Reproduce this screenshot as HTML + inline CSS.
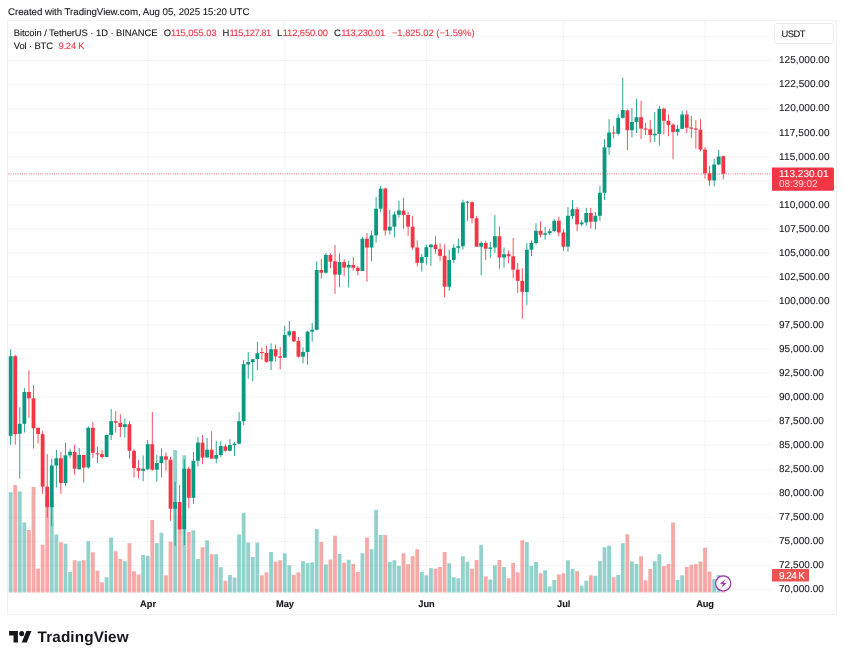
<!DOCTYPE html>
<html lang="en"><head><meta charset="utf-8"><title>BTCUSDT chart</title>
<style>
html,body{margin:0;padding:0;background:#fff}
svg{display:block}
text{font-family:"Liberation Sans",sans-serif;text-rendering:geometricPrecision;fill:#16171b;stroke:#16171b;stroke-width:.1px}
.a{font-size:10px}
.h{font-size:9.7px}
.l{font-size:9.4px}
.r{fill:#F23645;stroke:#F23645}
.b{font-weight:700;font-size:9.3px}
</style></head><body>
<svg width="844" height="660" viewBox="0 0 844 660">
<rect width="844" height="660" fill="#fff"/>
<g fill="rgba(0,0,0,0.045)">
<rect x="8" y="35.95" width="763.2" height="1"/>
<rect x="8" y="60" width="763.2" height="1"/>
<rect x="8" y="84.05" width="763.2" height="1"/>
<rect x="8" y="108.09" width="763.2" height="1"/>
<rect x="8" y="132.13" width="763.2" height="1"/>
<rect x="8" y="156.18" width="763.2" height="1"/>
<rect x="8" y="180.23" width="763.2" height="1"/>
<rect x="8" y="204.27" width="763.2" height="1"/>
<rect x="8" y="228.31" width="763.2" height="1"/>
<rect x="8" y="252.36" width="763.2" height="1"/>
<rect x="8" y="276.41" width="763.2" height="1"/>
<rect x="8" y="300.45" width="763.2" height="1"/>
<rect x="8" y="324.5" width="763.2" height="1"/>
<rect x="8" y="348.54" width="763.2" height="1"/>
<rect x="8" y="372.59" width="763.2" height="1"/>
<rect x="8" y="396.63" width="763.2" height="1"/>
<rect x="8" y="420.68" width="763.2" height="1"/>
<rect x="8" y="444.72" width="763.2" height="1"/>
<rect x="8" y="468.77" width="763.2" height="1"/>
<rect x="8" y="492.81" width="763.2" height="1"/>
<rect x="8" y="516.86" width="763.2" height="1"/>
<rect x="8" y="540.9" width="763.2" height="1"/>
<rect x="8" y="564.95" width="763.2" height="1"/>
<rect x="8" y="588.99" width="763.2" height="1"/>
<rect x="147.2" y="21" width="1" height="571.5"/>
<rect x="284.25" y="21" width="1" height="571.5"/>
<rect x="425.86" y="21" width="1" height="571.5"/>
<rect x="562.9" y="21" width="1" height="571.5"/>
<rect x="704.51" y="21" width="1" height="571.5"/>
</g>
<rect x="7.5" y="20.5" width="829" height="594" fill="none" stroke="#f1f1f3" stroke-width="1"/>
<g fill="rgba(38,166,154,.5)">
<rect x="8.76" y="492.3" width="3.81" height="100.2"/>
<rect x="17.89" y="491.5" width="3.81" height="101"/>
<rect x="22.46" y="522.5" width="3.81" height="70"/>
<rect x="49.87" y="500" width="3.81" height="92.5"/>
<rect x="54.44" y="534.5" width="3.81" height="58"/>
<rect x="63.57" y="543.7" width="3.81" height="48.8"/>
<rect x="68.14" y="572" width="3.81" height="20.5"/>
<rect x="77.28" y="561.2" width="3.81" height="31.3"/>
<rect x="86.41" y="541.2" width="3.81" height="51.3"/>
<rect x="104.69" y="577.3" width="3.81" height="15.2"/>
<rect x="109.25" y="537.5" width="3.81" height="55"/>
<rect x="122.96" y="561.2" width="3.81" height="31.3"/>
<rect x="141.23" y="555" width="3.81" height="37.5"/>
<rect x="145.8" y="555.8" width="3.81" height="36.7"/>
<rect x="154.93" y="543.2" width="3.81" height="49.3"/>
<rect x="159.5" y="532.8" width="3.81" height="59.7"/>
<rect x="173.21" y="450" width="3.81" height="142.5"/>
<rect x="182.34" y="455.3" width="3.81" height="137.2"/>
<rect x="191.48" y="530.3" width="3.81" height="62.2"/>
<rect x="196.05" y="559" width="3.81" height="33.5"/>
<rect x="205.18" y="540.3" width="3.81" height="52.2"/>
<rect x="214.32" y="554.2" width="3.81" height="38.3"/>
<rect x="218.89" y="567.3" width="3.81" height="25.2"/>
<rect x="228.02" y="575" width="3.81" height="17.5"/>
<rect x="232.59" y="577.5" width="3.81" height="15"/>
<rect x="237.16" y="534.5" width="3.81" height="58"/>
<rect x="241.73" y="512.8" width="3.81" height="79.7"/>
<rect x="246.3" y="542.5" width="3.81" height="50"/>
<rect x="250.86" y="557" width="3.81" height="35.5"/>
<rect x="255.43" y="542.5" width="3.81" height="50"/>
<rect x="269.14" y="552" width="3.81" height="40.5"/>
<rect x="282.84" y="553.3" width="3.81" height="39.2"/>
<rect x="287.41" y="565.3" width="3.81" height="27.2"/>
<rect x="301.11" y="561.2" width="3.81" height="31.3"/>
<rect x="305.68" y="563.2" width="3.81" height="29.3"/>
<rect x="310.25" y="562.3" width="3.81" height="30.2"/>
<rect x="314.82" y="529" width="3.81" height="63.5"/>
<rect x="323.95" y="564.5" width="3.81" height="28"/>
<rect x="337.66" y="554" width="3.81" height="38.5"/>
<rect x="346.79" y="559.8" width="3.81" height="32.7"/>
<rect x="360.5" y="553.2" width="3.81" height="39.3"/>
<rect x="369.63" y="549.2" width="3.81" height="43.3"/>
<rect x="374.2" y="509.8" width="3.81" height="82.7"/>
<rect x="378.77" y="535" width="3.81" height="57.5"/>
<rect x="387.91" y="562" width="3.81" height="30.5"/>
<rect x="392.48" y="560.3" width="3.81" height="32.2"/>
<rect x="397.04" y="565.8" width="3.81" height="26.7"/>
<rect x="419.88" y="572" width="3.81" height="20.5"/>
<rect x="424.45" y="575.3" width="3.81" height="17.2"/>
<rect x="429.02" y="568.2" width="3.81" height="24.3"/>
<rect x="447.29" y="563.3" width="3.81" height="29.2"/>
<rect x="451.86" y="577.3" width="3.81" height="15.2"/>
<rect x="456.43" y="578.2" width="3.81" height="14.3"/>
<rect x="461" y="556.2" width="3.81" height="36.3"/>
<rect x="465.57" y="561.7" width="3.81" height="30.8"/>
<rect x="479.27" y="544.8" width="3.81" height="47.7"/>
<rect x="488.41" y="579.5" width="3.81" height="13"/>
<rect x="492.97" y="565.3" width="3.81" height="27.2"/>
<rect x="502.11" y="567" width="3.81" height="25.5"/>
<rect x="524.95" y="542" width="3.81" height="50.5"/>
<rect x="529.52" y="565.8" width="3.81" height="26.7"/>
<rect x="534.09" y="562" width="3.81" height="30.5"/>
<rect x="543.22" y="570.3" width="3.81" height="22.2"/>
<rect x="547.79" y="586.5" width="3.81" height="6"/>
<rect x="552.36" y="580" width="3.81" height="12.5"/>
<rect x="566.06" y="560.3" width="3.81" height="32.2"/>
<rect x="570.63" y="569" width="3.81" height="23.5"/>
<rect x="579.77" y="585.7" width="3.81" height="6.8"/>
<rect x="584.34" y="580.7" width="3.81" height="11.8"/>
<rect x="593.47" y="575.8" width="3.81" height="16.7"/>
<rect x="598.04" y="561.2" width="3.81" height="31.3"/>
<rect x="602.61" y="547.3" width="3.81" height="45.2"/>
<rect x="607.18" y="545.7" width="3.81" height="46.8"/>
<rect x="616.31" y="575" width="3.81" height="17.5"/>
<rect x="620.88" y="543.2" width="3.81" height="49.3"/>
<rect x="630.02" y="561.5" width="3.81" height="31"/>
<rect x="634.58" y="564" width="3.81" height="28.5"/>
<rect x="652.86" y="561.2" width="3.81" height="31.3"/>
<rect x="657.43" y="554.2" width="3.81" height="38.3"/>
<rect x="675.7" y="580" width="3.81" height="12.5"/>
<rect x="680.27" y="575.3" width="3.81" height="17.2"/>
<rect x="712.24" y="579" width="3.81" height="13.5"/>
<rect x="716.81" y="575" width="3.81" height="17.5"/>
</g>
<g fill="rgba(239,83,80,.5)">
<rect x="13.32" y="485" width="3.81" height="107.5"/>
<rect x="27.03" y="530" width="3.81" height="62.5"/>
<rect x="31.6" y="487" width="3.81" height="105.5"/>
<rect x="36.16" y="568.7" width="3.81" height="23.8"/>
<rect x="40.73" y="544.8" width="3.81" height="47.7"/>
<rect x="45.3" y="497" width="3.81" height="95.5"/>
<rect x="59" y="542.3" width="3.81" height="50.2"/>
<rect x="72.71" y="560.3" width="3.81" height="32.2"/>
<rect x="81.84" y="560.3" width="3.81" height="32.2"/>
<rect x="90.98" y="552.3" width="3.81" height="40.2"/>
<rect x="95.55" y="570.7" width="3.81" height="21.8"/>
<rect x="100.12" y="582.3" width="3.81" height="10.2"/>
<rect x="113.82" y="551.2" width="3.81" height="41.3"/>
<rect x="118.39" y="559" width="3.81" height="33.5"/>
<rect x="127.53" y="543.2" width="3.81" height="49.3"/>
<rect x="132.09" y="571.2" width="3.81" height="21.3"/>
<rect x="136.66" y="574.5" width="3.81" height="18"/>
<rect x="150.37" y="520" width="3.81" height="72.5"/>
<rect x="164.07" y="575.3" width="3.81" height="17.2"/>
<rect x="168.64" y="541.7" width="3.81" height="50.8"/>
<rect x="177.77" y="515" width="3.81" height="77.5"/>
<rect x="186.91" y="532" width="3.81" height="60.5"/>
<rect x="200.62" y="547.3" width="3.81" height="45.2"/>
<rect x="209.75" y="554.2" width="3.81" height="38.3"/>
<rect x="223.46" y="580.7" width="3.81" height="11.8"/>
<rect x="260" y="575.3" width="3.81" height="17.2"/>
<rect x="264.57" y="572.3" width="3.81" height="20.2"/>
<rect x="273.7" y="561.7" width="3.81" height="30.8"/>
<rect x="278.27" y="560.3" width="3.81" height="32.2"/>
<rect x="291.98" y="575" width="3.81" height="17.5"/>
<rect x="296.55" y="572.3" width="3.81" height="20.2"/>
<rect x="319.39" y="542" width="3.81" height="50.5"/>
<rect x="328.52" y="559.5" width="3.81" height="33"/>
<rect x="333.09" y="535.7" width="3.81" height="56.8"/>
<rect x="342.23" y="562.8" width="3.81" height="29.7"/>
<rect x="351.36" y="564" width="3.81" height="28.5"/>
<rect x="355.93" y="572" width="3.81" height="20.5"/>
<rect x="365.07" y="537.5" width="3.81" height="55"/>
<rect x="383.34" y="535" width="3.81" height="57.5"/>
<rect x="401.61" y="553.3" width="3.81" height="39.2"/>
<rect x="406.18" y="564.2" width="3.81" height="28.3"/>
<rect x="410.75" y="556.2" width="3.81" height="36.3"/>
<rect x="415.32" y="549.2" width="3.81" height="43.3"/>
<rect x="433.59" y="568.7" width="3.81" height="23.8"/>
<rect x="438.16" y="567" width="3.81" height="25.5"/>
<rect x="442.72" y="552" width="3.81" height="40.5"/>
<rect x="470.13" y="568.7" width="3.81" height="23.8"/>
<rect x="474.7" y="560" width="3.81" height="32.5"/>
<rect x="483.84" y="576.5" width="3.81" height="16"/>
<rect x="497.54" y="560" width="3.81" height="32.5"/>
<rect x="506.68" y="578.3" width="3.81" height="14.2"/>
<rect x="511.25" y="562.8" width="3.81" height="29.7"/>
<rect x="515.81" y="572.3" width="3.81" height="20.2"/>
<rect x="520.38" y="540.3" width="3.81" height="52.2"/>
<rect x="538.65" y="573.3" width="3.81" height="19.2"/>
<rect x="556.93" y="574.5" width="3.81" height="18"/>
<rect x="561.5" y="573.3" width="3.81" height="19.2"/>
<rect x="575.2" y="571.2" width="3.81" height="21.3"/>
<rect x="588.9" y="575.3" width="3.81" height="17.2"/>
<rect x="611.74" y="577.3" width="3.81" height="15.2"/>
<rect x="625.45" y="534.2" width="3.81" height="58.3"/>
<rect x="639.15" y="556.2" width="3.81" height="36.3"/>
<rect x="643.72" y="580.3" width="3.81" height="12.2"/>
<rect x="648.29" y="569" width="3.81" height="23.5"/>
<rect x="661.99" y="566.2" width="3.81" height="26.3"/>
<rect x="666.56" y="564" width="3.81" height="28.5"/>
<rect x="671.13" y="522.5" width="3.81" height="70"/>
<rect x="684.83" y="567" width="3.81" height="25.5"/>
<rect x="689.4" y="565" width="3.81" height="27.5"/>
<rect x="693.97" y="564.2" width="3.81" height="28.3"/>
<rect x="698.54" y="561.5" width="3.81" height="31"/>
<rect x="703.11" y="547.8" width="3.81" height="44.7"/>
<rect x="707.67" y="571.5" width="3.81" height="21"/>
<rect x="721.38" y="582" width="3.81" height="10.5"/>
</g>
<g fill="#089981">
<rect x="10.23" y="349.2" width="0.85" height="95.5"/><rect x="8.76" y="356.2" width="3.81" height="79.6"/>
<rect x="19.37" y="407.2" width="0.85" height="71.6"/><rect x="17.89" y="423.8" width="3.81" height="10"/>
<rect x="23.94" y="388" width="0.85" height="44.5"/><rect x="22.46" y="392" width="3.81" height="31.8"/>
<rect x="51.35" y="458.7" width="0.85" height="67.6"/><rect x="49.87" y="465.5" width="3.81" height="41.5"/>
<rect x="55.92" y="450" width="0.85" height="37.5"/><rect x="54.44" y="458.3" width="3.81" height="7.2"/>
<rect x="65.05" y="442.5" width="0.85" height="43.3"/><rect x="63.57" y="455.3" width="3.81" height="27.7"/>
<rect x="69.62" y="448.7" width="0.85" height="9.6"/><rect x="68.14" y="451.7" width="3.81" height="3.6"/>
<rect x="78.76" y="448" width="0.85" height="21.7"/><rect x="77.28" y="455" width="3.81" height="14.2"/>
<rect x="87.89" y="426.2" width="0.85" height="42.5"/><rect x="86.41" y="427.8" width="3.81" height="39.7"/>
<rect x="106.17" y="434.7" width="0.85" height="22.3"/><rect x="104.69" y="435" width="3.81" height="22"/>
<rect x="110.73" y="408.8" width="0.85" height="31.2"/><rect x="109.25" y="421.2" width="3.81" height="13.8"/>
<rect x="124.44" y="418.8" width="0.85" height="18.7"/><rect x="122.96" y="424.2" width="3.81" height="2.8"/>
<rect x="142.71" y="455.5" width="0.85" height="25.8"/><rect x="141.23" y="468.8" width="3.81" height="2"/>
<rect x="147.28" y="440" width="0.85" height="30"/><rect x="145.8" y="444.2" width="3.81" height="25"/>
<rect x="156.41" y="455" width="0.85" height="26.7"/><rect x="154.93" y="463" width="3.81" height="6.7"/>
<rect x="160.98" y="448.3" width="0.85" height="29.2"/><rect x="159.5" y="456.3" width="3.81" height="6.7"/>
<rect x="174.69" y="481.7" width="0.85" height="64.1"/><rect x="173.21" y="502" width="3.81" height="6.7"/>
<rect x="183.82" y="459.2" width="0.85" height="85.8"/><rect x="182.34" y="468.7" width="3.81" height="60.5"/>
<rect x="192.96" y="452" width="0.85" height="51.7"/><rect x="191.48" y="460.8" width="3.81" height="37"/>
<rect x="197.53" y="437" width="0.85" height="29.7"/><rect x="196.05" y="442.6" width="3.81" height="18.2"/>
<rect x="206.66" y="438" width="0.85" height="19.5"/><rect x="205.18" y="449.7" width="3.81" height="7.8"/>
<rect x="215.8" y="440.8" width="0.85" height="22.5"/><rect x="214.32" y="455" width="3.81" height="3.7"/>
<rect x="220.37" y="441.2" width="0.85" height="16"/><rect x="218.89" y="446" width="3.81" height="9"/>
<rect x="229.5" y="439.2" width="0.85" height="12.1"/><rect x="228.02" y="445" width="3.81" height="5.8"/>
<rect x="234.07" y="442" width="0.85" height="13.8"/><rect x="232.59" y="443.7" width="3.81" height="1.5"/>
<rect x="238.64" y="412.2" width="0.85" height="31.5"/><rect x="237.16" y="421.2" width="3.81" height="22.5"/>
<rect x="243.21" y="360" width="0.85" height="65.3"/><rect x="241.73" y="364.2" width="3.81" height="57"/>
<rect x="247.78" y="352" width="0.85" height="26.7"/><rect x="246.3" y="362" width="3.81" height="2.5"/>
<rect x="252.34" y="359.2" width="0.85" height="22"/><rect x="250.86" y="359.2" width="3.81" height="2.8"/>
<rect x="256.91" y="342" width="0.85" height="28"/><rect x="255.43" y="353.2" width="3.81" height="5.8"/>
<rect x="270.62" y="343.3" width="0.85" height="26.7"/><rect x="269.14" y="349.2" width="3.81" height="12.1"/>
<rect x="284.32" y="325.8" width="0.85" height="31.9"/><rect x="282.84" y="335" width="3.81" height="22.7"/>
<rect x="288.89" y="320.8" width="0.85" height="15.9"/><rect x="287.41" y="331.3" width="3.81" height="4"/>
<rect x="302.59" y="347.5" width="0.85" height="15.8"/><rect x="301.11" y="352" width="3.81" height="4.7"/>
<rect x="307.16" y="330.8" width="0.85" height="33.9"/><rect x="305.68" y="331.7" width="3.81" height="20.3"/>
<rect x="311.73" y="323" width="0.85" height="18.7"/><rect x="310.25" y="329.7" width="3.81" height="2"/>
<rect x="316.3" y="261.3" width="0.85" height="69.2"/><rect x="314.82" y="270" width="3.81" height="59.7"/>
<rect x="325.43" y="253" width="0.85" height="20.7"/><rect x="323.95" y="255" width="3.81" height="17.7"/>
<rect x="339.14" y="253.3" width="0.85" height="34"/><rect x="337.66" y="262" width="3.81" height="12.7"/>
<rect x="348.27" y="260.8" width="0.85" height="26.7"/><rect x="346.79" y="265" width="3.81" height="2.5"/>
<rect x="361.98" y="237" width="0.85" height="34"/><rect x="360.5" y="238.7" width="3.81" height="32.3"/>
<rect x="371.11" y="230.8" width="0.85" height="30.4"/><rect x="369.63" y="235.3" width="3.81" height="12.2"/>
<rect x="375.68" y="197" width="0.85" height="45.5"/><rect x="374.2" y="208.7" width="3.81" height="26.6"/>
<rect x="380.25" y="185.8" width="0.85" height="26.7"/><rect x="378.77" y="188.7" width="3.81" height="20"/>
<rect x="389.39" y="210" width="0.85" height="24.7"/><rect x="387.91" y="226.7" width="3.81" height="3.8"/>
<rect x="393.96" y="211.3" width="0.85" height="26.2"/><rect x="392.48" y="214.5" width="3.81" height="12.2"/>
<rect x="398.52" y="200.8" width="0.85" height="16.7"/><rect x="397.04" y="210.5" width="3.81" height="4.2"/>
<rect x="421.36" y="253.8" width="0.85" height="17.9"/><rect x="419.88" y="257" width="3.81" height="5.8"/>
<rect x="425.93" y="244.7" width="0.85" height="20"/><rect x="424.45" y="247.2" width="3.81" height="9.8"/>
<rect x="430.5" y="243.8" width="0.85" height="22"/><rect x="429.02" y="244.7" width="3.81" height="2.5"/>
<rect x="448.77" y="249.7" width="0.85" height="41.1"/><rect x="447.29" y="260" width="3.81" height="26.7"/>
<rect x="453.34" y="244.2" width="0.85" height="19.1"/><rect x="451.86" y="247.8" width="3.81" height="12.2"/>
<rect x="457.91" y="238.3" width="0.85" height="15"/><rect x="456.43" y="246.2" width="3.81" height="1.6"/>
<rect x="462.48" y="199.7" width="0.85" height="50"/><rect x="461" y="202.5" width="3.81" height="43.7"/>
<rect x="467.05" y="200.8" width="0.85" height="20"/><rect x="465.57" y="201.7" width="3.81" height="1"/>
<rect x="480.75" y="241.3" width="0.85" height="34"/><rect x="479.27" y="243" width="3.81" height="3.7"/>
<rect x="489.89" y="242" width="0.85" height="16"/><rect x="488.41" y="247.5" width="3.81" height="1.3"/>
<rect x="494.45" y="215" width="0.85" height="38"/><rect x="492.97" y="236.2" width="3.81" height="11.3"/>
<rect x="503.59" y="247.5" width="0.85" height="20"/><rect x="502.11" y="254.2" width="3.81" height="3.3"/>
<rect x="526.43" y="243" width="0.85" height="62"/><rect x="524.95" y="249.7" width="3.81" height="42.3"/>
<rect x="531" y="240.3" width="0.85" height="16"/><rect x="529.52" y="243" width="3.81" height="6.7"/>
<rect x="535.57" y="223.2" width="0.85" height="21.5"/><rect x="534.09" y="230.8" width="3.81" height="12.2"/>
<rect x="544.7" y="227" width="0.85" height="12.7"/><rect x="543.22" y="233.3" width="3.81" height="1.4"/>
<rect x="549.27" y="228.5" width="0.85" height="6.8"/><rect x="547.79" y="231.2" width="3.81" height="2.1"/>
<rect x="553.84" y="219.2" width="0.85" height="12.5"/><rect x="552.36" y="220.8" width="3.81" height="10.4"/>
<rect x="567.54" y="207.2" width="0.85" height="44.5"/><rect x="566.06" y="215.8" width="3.81" height="30.9"/>
<rect x="572.11" y="200" width="0.85" height="19"/><rect x="570.63" y="209.2" width="3.81" height="6.9"/>
<rect x="581.25" y="220" width="0.85" height="6.3"/><rect x="579.77" y="222.5" width="3.81" height="1.8"/>
<rect x="585.82" y="207.8" width="0.85" height="18"/><rect x="584.34" y="213" width="3.81" height="9.5"/>
<rect x="594.95" y="212.2" width="0.85" height="17.3"/><rect x="593.47" y="215.8" width="3.81" height="5.9"/>
<rect x="599.52" y="185.8" width="0.85" height="35.2"/><rect x="598.04" y="192.8" width="3.81" height="23"/>
<rect x="604.09" y="139.2" width="0.85" height="60.8"/><rect x="602.61" y="147.4" width="3.81" height="45.4"/>
<rect x="608.66" y="119.2" width="0.85" height="35.5"/><rect x="607.18" y="132.5" width="3.81" height="14.9"/>
<rect x="617.79" y="114.2" width="0.85" height="21.1"/><rect x="616.31" y="117.8" width="3.81" height="15.9"/>
<rect x="622.36" y="77.5" width="0.85" height="41.2"/><rect x="620.88" y="110" width="3.81" height="7.8"/>
<rect x="631.5" y="108" width="0.85" height="29.3"/><rect x="630.02" y="122" width="3.81" height="8.2"/>
<rect x="636.06" y="98.8" width="0.85" height="34.2"/><rect x="634.58" y="117.2" width="3.81" height="4.8"/>
<rect x="654.34" y="112" width="0.85" height="30"/><rect x="652.86" y="133.8" width="3.81" height="1.5"/>
<rect x="658.91" y="105.8" width="0.85" height="40"/><rect x="657.43" y="108.8" width="3.81" height="25"/>
<rect x="677.18" y="125" width="0.85" height="10.8"/><rect x="675.7" y="128.8" width="3.81" height="3.2"/>
<rect x="681.75" y="110.8" width="0.85" height="18.4"/><rect x="680.27" y="114.5" width="3.81" height="14.3"/>
<rect x="713.72" y="158.8" width="0.85" height="27.5"/><rect x="712.24" y="164.5" width="3.81" height="16"/>
<rect x="718.29" y="150" width="0.85" height="15"/><rect x="716.81" y="156.5" width="3.81" height="8"/>
</g>
<g fill="#F23645">
<rect x="14.8" y="354.7" width="0.85" height="90"/><rect x="13.32" y="356.2" width="3.81" height="78"/>
<rect x="28.51" y="370.3" width="0.85" height="47.5"/><rect x="27.03" y="392" width="3.81" height="6.3"/>
<rect x="33.08" y="385" width="0.85" height="63.5"/><rect x="31.6" y="398.3" width="3.81" height="30"/>
<rect x="37.64" y="427.8" width="0.85" height="15.4"/><rect x="36.16" y="427.8" width="3.81" height="6.2"/>
<rect x="42.21" y="431" width="0.85" height="62.7"/><rect x="40.73" y="434.2" width="3.81" height="52.5"/>
<rect x="46.78" y="454.2" width="0.85" height="63.3"/><rect x="45.3" y="486.7" width="3.81" height="20.3"/>
<rect x="60.48" y="451.7" width="0.85" height="42"/><rect x="59" y="458.3" width="3.81" height="24.7"/>
<rect x="74.19" y="444.7" width="0.85" height="30"/><rect x="72.71" y="452" width="3.81" height="16.7"/>
<rect x="83.32" y="455" width="0.85" height="27.5"/><rect x="81.84" y="455" width="3.81" height="12.5"/>
<rect x="92.46" y="421.7" width="0.85" height="36.3"/><rect x="90.98" y="427.8" width="3.81" height="25"/>
<rect x="97.03" y="446.7" width="0.85" height="16.3"/><rect x="95.55" y="453.3" width="3.81" height="1"/>
<rect x="101.6" y="450" width="0.85" height="8.7"/><rect x="100.12" y="454.2" width="3.81" height="2.8"/>
<rect x="115.3" y="411.2" width="0.85" height="21.3"/><rect x="113.82" y="421.2" width="3.81" height="1.6"/>
<rect x="119.87" y="414.2" width="0.85" height="23"/><rect x="118.39" y="422.8" width="3.81" height="4.2"/>
<rect x="129.01" y="421.2" width="0.85" height="37.5"/><rect x="127.53" y="424.2" width="3.81" height="26.6"/>
<rect x="133.57" y="449.2" width="0.85" height="28.3"/><rect x="132.09" y="450.8" width="3.81" height="17.2"/>
<rect x="138.14" y="460" width="0.85" height="18.3"/><rect x="136.66" y="468.2" width="3.81" height="2.5"/>
<rect x="151.85" y="412" width="0.85" height="58.8"/><rect x="150.37" y="444.2" width="3.81" height="25.5"/>
<rect x="165.55" y="452.5" width="0.85" height="18.3"/><rect x="164.07" y="456.3" width="3.81" height="3.4"/>
<rect x="170.12" y="456.7" width="0.85" height="64.1"/><rect x="168.64" y="459.7" width="3.81" height="49"/>
<rect x="179.25" y="485" width="0.85" height="45"/><rect x="177.77" y="502" width="3.81" height="27.2"/>
<rect x="188.39" y="466.7" width="0.85" height="41.6"/><rect x="186.91" y="468.7" width="3.81" height="29.1"/>
<rect x="202.1" y="435" width="0.85" height="29.2"/><rect x="200.62" y="442.6" width="3.81" height="14.9"/>
<rect x="211.23" y="431.2" width="0.85" height="27.5"/><rect x="209.75" y="449.7" width="3.81" height="9"/>
<rect x="224.94" y="444.2" width="0.85" height="7.5"/><rect x="223.46" y="446.3" width="3.81" height="4.5"/>
<rect x="261.48" y="347.5" width="0.85" height="12.2"/><rect x="260" y="352" width="3.81" height="1"/>
<rect x="266.05" y="345.6" width="0.85" height="17.1"/><rect x="264.57" y="353" width="3.81" height="8.8"/>
<rect x="275.18" y="344.7" width="0.85" height="16.5"/><rect x="273.7" y="349.2" width="3.81" height="7.1"/>
<rect x="279.75" y="347.2" width="0.85" height="22.3"/><rect x="278.27" y="356.2" width="3.81" height="1.5"/>
<rect x="293.46" y="330.8" width="0.85" height="11.2"/><rect x="291.98" y="331.2" width="3.81" height="10.1"/>
<rect x="298.03" y="337" width="0.85" height="20.5"/><rect x="296.55" y="341" width="3.81" height="15.7"/>
<rect x="320.87" y="259.2" width="0.85" height="19.5"/><rect x="319.39" y="270" width="3.81" height="2.7"/>
<rect x="330" y="253.3" width="0.85" height="15"/><rect x="328.52" y="255" width="3.81" height="6.7"/>
<rect x="334.57" y="245" width="0.85" height="48.8"/><rect x="333.09" y="261.3" width="3.81" height="13.4"/>
<rect x="343.71" y="259.2" width="0.85" height="17.1"/><rect x="342.23" y="262" width="3.81" height="5.5"/>
<rect x="352.84" y="257" width="0.85" height="13.8"/><rect x="351.36" y="265" width="3.81" height="2.8"/>
<rect x="357.41" y="265.8" width="0.85" height="9.7"/><rect x="355.93" y="267.8" width="3.81" height="3.2"/>
<rect x="366.55" y="233" width="0.85" height="48.7"/><rect x="365.07" y="238.7" width="3.81" height="8.8"/>
<rect x="384.82" y="187.5" width="0.85" height="48"/><rect x="383.34" y="188.5" width="3.81" height="42"/>
<rect x="403.09" y="198" width="0.85" height="30.8"/><rect x="401.61" y="210.5" width="3.81" height="4.5"/>
<rect x="407.66" y="212" width="0.85" height="23.8"/><rect x="406.18" y="215" width="3.81" height="11.7"/>
<rect x="412.23" y="215.8" width="0.85" height="34.2"/><rect x="410.75" y="226.7" width="3.81" height="20.8"/>
<rect x="416.8" y="240.3" width="0.85" height="26"/><rect x="415.32" y="247.5" width="3.81" height="15.3"/>
<rect x="435.07" y="236.2" width="0.85" height="17.5"/><rect x="433.59" y="244.7" width="3.81" height="4.5"/>
<rect x="439.64" y="243.3" width="0.85" height="17.5"/><rect x="438.16" y="249.2" width="3.81" height="6.6"/>
<rect x="444.2" y="244.2" width="0.85" height="53.3"/><rect x="442.72" y="255.8" width="3.81" height="30.9"/>
<rect x="471.61" y="201.3" width="0.85" height="22"/><rect x="470.13" y="202.2" width="3.81" height="16.1"/>
<rect x="476.18" y="215.8" width="0.85" height="30.9"/><rect x="474.7" y="218.3" width="3.81" height="28.4"/>
<rect x="485.32" y="240.8" width="0.85" height="19.2"/><rect x="483.84" y="243" width="3.81" height="5.7"/>
<rect x="499.02" y="226.3" width="0.85" height="42.4"/><rect x="497.54" y="236.2" width="3.81" height="21.3"/>
<rect x="508.16" y="250.5" width="0.85" height="12.8"/><rect x="506.68" y="254.2" width="3.81" height="2.1"/>
<rect x="512.73" y="238" width="0.85" height="40.3"/><rect x="511.25" y="256.3" width="3.81" height="13.4"/>
<rect x="517.29" y="263" width="0.85" height="29.9"/><rect x="515.81" y="269.5" width="3.81" height="11.3"/>
<rect x="521.86" y="268.3" width="0.85" height="50.4"/><rect x="520.38" y="280.8" width="3.81" height="11"/>
<rect x="540.13" y="221.3" width="0.85" height="16.2"/><rect x="538.65" y="230.8" width="3.81" height="3.9"/>
<rect x="558.41" y="216.7" width="0.85" height="19.5"/><rect x="556.93" y="220.8" width="3.81" height="11.7"/>
<rect x="562.98" y="229.2" width="0.85" height="21.6"/><rect x="561.5" y="232.5" width="3.81" height="14.2"/>
<rect x="576.68" y="207" width="0.85" height="24.2"/><rect x="575.2" y="209.2" width="3.81" height="15.2"/>
<rect x="590.38" y="207.8" width="0.85" height="20.9"/><rect x="588.9" y="213" width="3.81" height="8.7"/>
<rect x="613.22" y="125.8" width="0.85" height="12.5"/><rect x="611.74" y="132.5" width="3.81" height="1"/>
<rect x="626.93" y="109.2" width="0.85" height="40.8"/><rect x="625.45" y="110.5" width="3.81" height="19.7"/>
<rect x="640.63" y="100.8" width="0.85" height="38.2"/><rect x="639.15" y="117.2" width="3.81" height="11.4"/>
<rect x="645.2" y="123" width="0.85" height="11.8"/><rect x="643.72" y="128.4" width="3.81" height="1.2"/>
<rect x="649.77" y="120" width="0.85" height="22.6"/><rect x="648.29" y="129.2" width="3.81" height="5.8"/>
<rect x="663.47" y="107.5" width="0.85" height="27"/><rect x="661.99" y="108.8" width="3.81" height="12"/>
<rect x="668.04" y="114.2" width="0.85" height="22.1"/><rect x="666.56" y="120.8" width="3.81" height="4.2"/>
<rect x="672.61" y="123.3" width="0.85" height="35.9"/><rect x="671.13" y="124.7" width="3.81" height="7.3"/>
<rect x="686.31" y="110.5" width="0.85" height="22.8"/><rect x="684.83" y="114.5" width="3.81" height="13.3"/>
<rect x="690.88" y="115.8" width="0.85" height="22.2"/><rect x="689.4" y="127.5" width="3.81" height="1.2"/>
<rect x="695.45" y="120.1" width="0.85" height="28.7"/><rect x="693.97" y="128.5" width="3.81" height="1.2"/>
<rect x="700.02" y="119.2" width="0.85" height="32.1"/><rect x="698.54" y="129.7" width="3.81" height="19.8"/>
<rect x="704.59" y="147" width="0.85" height="31.7"/><rect x="703.11" y="149.5" width="3.81" height="23.8"/>
<rect x="709.15" y="165.8" width="0.85" height="20"/><rect x="707.67" y="173.3" width="3.81" height="7.2"/>
<rect x="722.86" y="155.5" width="0.85" height="23.8"/><rect x="721.38" y="156.2" width="3.81" height="17.5"/>
</g>
<line x1="8.3" y1="173.9" x2="771.2" y2="173.9" stroke="#F23645" stroke-width="1" stroke-opacity=".8" stroke-dasharray="0.9 1.385"/>
<text class="h" x="8" y="15.3" textLength="241.4" lengthAdjust="spacing">Created with TradingView.com, Aug 05, 2025 15:20 UTC</text>
<text class="l" x="13.8" y="35.7" textLength="143.7" lengthAdjust="spacing">Bitcoin / TetherUS · 1D · BINANCE</text>
<text class="l" x="163.7" y="35.7" textLength="6.3" lengthAdjust="spacing">O</text>
<text class="l r" x="171" y="35.7" textLength="45.6" lengthAdjust="spacing">115,055.03</text>
<text class="l" x="222.5" y="35.7" textLength="5.7" lengthAdjust="spacing">H</text>
<text class="l r" x="229.5" y="35.7" textLength="41.8" lengthAdjust="spacing">115,127.81</text>
<text class="l" x="277.1" y="35.7" textLength="4.5" lengthAdjust="spacing">L</text>
<text class="l r" x="282.7" y="35.7" textLength="45.3" lengthAdjust="spacing">112,650.00</text>
<text class="l" x="334.1" y="35.7" textLength="6.3" lengthAdjust="spacing">C</text>
<text class="l r" x="341.3" y="35.7" textLength="43.9" lengthAdjust="spacing">113,230.01</text>
<text class="l r" x="391.9" y="35.7" textLength="82.6" lengthAdjust="spacing">−1,825.02 (−1.59%)</text>
<text class="l" x="13.8" y="48.9" textLength="39.2" lengthAdjust="spacing">Vol · BTC</text>
<text class="l r" x="58.4" y="48.9" textLength="26.2" lengthAdjust="spacing">9.24 K</text>
<text class="a" x="779" y="63.4" textLength="50.5" lengthAdjust="spacing">125,000.00</text>
<text class="a" x="779" y="87.45" textLength="50.5" lengthAdjust="spacing">122,500.00</text>
<text class="a" x="779" y="111.49" textLength="50.5" lengthAdjust="spacing">120,000.00</text>
<text class="a" x="779" y="135.53" textLength="50.5" lengthAdjust="spacing">117,500.00</text>
<text class="a" x="779" y="159.58" textLength="50.5" lengthAdjust="spacing">115,000.00</text>
<text class="a" x="779" y="183.63" textLength="50.5" lengthAdjust="spacing">112,500.00</text>
<text class="a" x="779" y="207.67" textLength="50.5" lengthAdjust="spacing">110,000.00</text>
<text class="a" x="779" y="231.72" textLength="50.5" lengthAdjust="spacing">107,500.00</text>
<text class="a" x="779" y="255.76" textLength="50.5" lengthAdjust="spacing">105,000.00</text>
<text class="a" x="779" y="279.81" textLength="50.5" lengthAdjust="spacing">102,500.00</text>
<text class="a" x="779" y="303.85" textLength="50.5" lengthAdjust="spacing">100,000.00</text>
<text class="a" x="779" y="327.89" textLength="44.9" lengthAdjust="spacing">97,500.00</text>
<text class="a" x="779" y="351.94" textLength="44.9" lengthAdjust="spacing">95,000.00</text>
<text class="a" x="779" y="375.99" textLength="44.9" lengthAdjust="spacing">92,500.00</text>
<text class="a" x="779" y="400.03" textLength="44.9" lengthAdjust="spacing">90,000.00</text>
<text class="a" x="779" y="424.07" textLength="44.9" lengthAdjust="spacing">87,500.00</text>
<text class="a" x="779" y="448.12" textLength="44.9" lengthAdjust="spacing">85,000.00</text>
<text class="a" x="779" y="472.17" textLength="44.9" lengthAdjust="spacing">82,500.00</text>
<text class="a" x="779" y="496.21" textLength="44.9" lengthAdjust="spacing">80,000.00</text>
<text class="a" x="779" y="520.25" textLength="44.9" lengthAdjust="spacing">77,500.00</text>
<text class="a" x="779" y="544.3" textLength="44.9" lengthAdjust="spacing">75,000.00</text>
<text class="a" x="779" y="568.35" textLength="44.9" lengthAdjust="spacing">72,500.00</text>
<text class="a" x="779" y="592.39" textLength="44.9" lengthAdjust="spacing">70,000.00</text>
<rect x="774.5" y="23.5" width="59" height="20" rx="3" fill="#fff" stroke="#ebebed"/>
<text class="l" x="781.5" y="36.5" textLength="24" lengthAdjust="spacing">USDT</text>
<path d="M772 167.5H832.5a1.5 1.5 0 0 1 1.5 1.5V189.3a1.5 1.5 0 0 1 -1.5 1.5H772Z" fill="#F23645"/>
<text class="a" x="779" y="176.8" textLength="49.5" lengthAdjust="spacing" style="fill:#fff;stroke:#fff">113,230.01</text>
<text class="a" x="779" y="187.3" textLength="38.5" lengthAdjust="spacing" style="fill:#fff;fill-opacity:.8;stroke:none">08:39:02</text>
<rect x="772" y="569" width="37" height="12.5" fill="#ef5350"/>
<text class="a" x="779" y="578.6" textLength="26" lengthAdjust="spacing" style="fill:#fff;stroke:#fff">9.24 K</text>
<text class="b" x="140" y="607.2" textLength="16" lengthAdjust="spacing">Apr</text>
<text class="b" x="276" y="607.2" textLength="18" lengthAdjust="spacing">May</text>
<text class="b" x="418.2" y="607.2" textLength="16.6" lengthAdjust="spacing">Jun</text>
<text class="b" x="557" y="607.2" textLength="13.4" lengthAdjust="spacing">Jul</text>
<text class="b" x="696.3" y="607.2" textLength="17.7" lengthAdjust="spacing">Aug</text>
<g><circle cx="723.2" cy="583.4" r="7.6" fill="#fff" stroke="#9c27b0" stroke-width="1.15"/><path d="M725.8 579.2L719.9 583.5L723.2 584L721.2 587.8L726.4 583.3L723.3 582.8Z" fill="#9c27b0"/></g>
<g fill="#16171b" transform="translate(9.1 628.6) scale(0.63)"><path d="M14 22H7V11H0V4h14v18zM28 22h-8l7.5-18h8L28 22z"/><circle cx="20" cy="8" r="4"/></g>
<text x="37.6" y="642" textLength="91" lengthAdjust="spacing" style="font-size:15.3px;font-weight:700;stroke:none">TradingView</text>
</svg>
</body></html>
